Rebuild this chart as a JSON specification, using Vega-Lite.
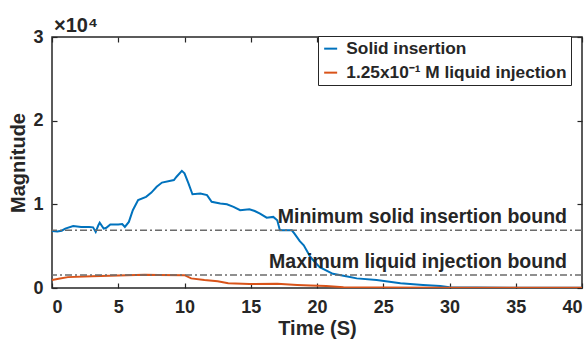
{
  "$schema": "https://vega.github.io/schema/vega-lite/v6.json",
  "width": 530,
  "height": 251,
  "autosize": "none",
  "padding": {"left": 52, "top": 37, "right": 2, "bottom": 55},
  "title": {"text": "×10⁴", "anchor": "start", "frame": "group", "baseline": "top", "offset": 2, "dx": 2, "dy": 10, "fontSize": 20, "fontWeight": "bold", "font": "Liberation Sans", "color": "#262626"},
  "datasets": {
    "series": [
      {"t": 0, "v": 6800, "s": "Solid insertion"},
      {"t": 0.4, "v": 6750, "s": "Solid insertion"},
      {"t": 0.73, "v": 6850, "s": "Solid insertion"},
      {"t": 1.0, "v": 7100, "s": "Solid insertion"},
      {"t": 1.6, "v": 7400, "s": "Solid insertion"},
      {"t": 2.2, "v": 7300, "s": "Solid insertion"},
      {"t": 2.8, "v": 7300, "s": "Solid insertion"},
      {"t": 3.1, "v": 7250, "s": "Solid insertion"},
      {"t": 3.3, "v": 6700, "s": "Solid insertion"},
      {"t": 3.5, "v": 7500, "s": "Solid insertion"},
      {"t": 3.6, "v": 7800, "s": "Solid insertion"},
      {"t": 3.9, "v": 7100, "s": "Solid insertion"},
      {"t": 4.1, "v": 7200, "s": "Solid insertion"},
      {"t": 4.4, "v": 7600, "s": "Solid insertion"},
      {"t": 5.0, "v": 7600, "s": "Solid insertion"},
      {"t": 5.3, "v": 7650, "s": "Solid insertion"},
      {"t": 5.5, "v": 7300, "s": "Solid insertion"},
      {"t": 5.8, "v": 7900, "s": "Solid insertion"},
      {"t": 6.1, "v": 9300, "s": "Solid insertion"},
      {"t": 6.5, "v": 10500, "s": "Solid insertion"},
      {"t": 7.1, "v": 10900, "s": "Solid insertion"},
      {"t": 7.5, "v": 11400, "s": "Solid insertion"},
      {"t": 7.9, "v": 12100, "s": "Solid insertion"},
      {"t": 8.3, "v": 12600, "s": "Solid insertion"},
      {"t": 9.2, "v": 12900, "s": "Solid insertion"},
      {"t": 9.4, "v": 13300, "s": "Solid insertion"},
      {"t": 9.8, "v": 14000, "s": "Solid insertion"},
      {"t": 10.0, "v": 13700, "s": "Solid insertion"},
      {"t": 10.3, "v": 12500, "s": "Solid insertion"},
      {"t": 10.6, "v": 11200, "s": "Solid insertion"},
      {"t": 11.2, "v": 11300, "s": "Solid insertion"},
      {"t": 11.7, "v": 11100, "s": "Solid insertion"},
      {"t": 12.05, "v": 10300, "s": "Solid insertion"},
      {"t": 12.7, "v": 10100, "s": "Solid insertion"},
      {"t": 13.2, "v": 10000, "s": "Solid insertion"},
      {"t": 13.7, "v": 9700, "s": "Solid insertion"},
      {"t": 14.2, "v": 9300, "s": "Solid insertion"},
      {"t": 14.9, "v": 9400, "s": "Solid insertion"},
      {"t": 15.3, "v": 9200, "s": "Solid insertion"},
      {"t": 15.7, "v": 8900, "s": "Solid insertion"},
      {"t": 16.2, "v": 8400, "s": "Solid insertion"},
      {"t": 16.7, "v": 8500, "s": "Solid insertion"},
      {"t": 17.0, "v": 8100, "s": "Solid insertion"},
      {"t": 17.2, "v": 6900, "s": "Solid insertion"},
      {"t": 17.7, "v": 6900, "s": "Solid insertion"},
      {"t": 18.1, "v": 6900, "s": "Solid insertion"},
      {"t": 18.3, "v": 6500, "s": "Solid insertion"},
      {"t": 18.7, "v": 5600, "s": "Solid insertion"},
      {"t": 19.0, "v": 5100, "s": "Solid insertion"},
      {"t": 19.5, "v": 3700, "s": "Solid insertion"},
      {"t": 20.2, "v": 2500, "s": "Solid insertion"},
      {"t": 21.2, "v": 1700, "s": "Solid insertion"},
      {"t": 22.2, "v": 1400, "s": "Solid insertion"},
      {"t": 23.0, "v": 1150, "s": "Solid insertion"},
      {"t": 24.5, "v": 950, "s": "Solid insertion"},
      {"t": 26.3, "v": 560, "s": "Solid insertion"},
      {"t": 28.0, "v": 360, "s": "Solid insertion"},
      {"t": 29.3, "v": 240, "s": "Solid insertion"},
      {"t": 30, "v": 100, "s": "Solid insertion"},
      {"t": 32, "v": 50, "s": "Solid insertion"},
      {"t": 35, "v": 30, "s": "Solid insertion"},
      {"t": 40, "v": 20, "s": "Solid insertion"},
      {"t": 0, "v": 950, "s": "1.25x10⁻¹ M liquid injection"},
      {"t": 0.5, "v": 1100, "s": "1.25x10⁻¹ M liquid injection"},
      {"t": 1.2, "v": 1300, "s": "1.25x10⁻¹ M liquid injection"},
      {"t": 3, "v": 1400, "s": "1.25x10⁻¹ M liquid injection"},
      {"t": 5, "v": 1500, "s": "1.25x10⁻¹ M liquid injection"},
      {"t": 7, "v": 1580, "s": "1.25x10⁻¹ M liquid injection"},
      {"t": 8, "v": 1550, "s": "1.25x10⁻¹ M liquid injection"},
      {"t": 10, "v": 1530, "s": "1.25x10⁻¹ M liquid injection"},
      {"t": 10.5, "v": 1150, "s": "1.25x10⁻¹ M liquid injection"},
      {"t": 11.5, "v": 950, "s": "1.25x10⁻¹ M liquid injection"},
      {"t": 12.5, "v": 800, "s": "1.25x10⁻¹ M liquid injection"},
      {"t": 13.3, "v": 560, "s": "1.25x10⁻¹ M liquid injection"},
      {"t": 14.9, "v": 480, "s": "1.25x10⁻¹ M liquid injection"},
      {"t": 17, "v": 500, "s": "1.25x10⁻¹ M liquid injection"},
      {"t": 18.5, "v": 360, "s": "1.25x10⁻¹ M liquid injection"},
      {"t": 19.5, "v": 300, "s": "1.25x10⁻¹ M liquid injection"},
      {"t": 20.7, "v": 240, "s": "1.25x10⁻¹ M liquid injection"},
      {"t": 22, "v": 100, "s": "1.25x10⁻¹ M liquid injection"},
      {"t": 25, "v": 50, "s": "1.25x10⁻¹ M liquid injection"},
      {"t": 30, "v": 30, "s": "1.25x10⁻¹ M liquid injection"},
      {"t": 40, "v": 30, "s": "1.25x10⁻¹ M liquid injection"}
    ],
    "bounds": [
      {"t": 40, "v": 6900, "label": "Minimum solid insertion bound"},
      {"t": 40, "v": 1550, "label": "Maximum liquid injection bound"}
    ]
  },
  "resolve": {"axis": {"x": "independent", "y": "independent"}},
  "layer": [
    {
      "data": {"name": "series"},
      "mark": {"type": "line", "strokeWidth": 2, "clip": true},
      "encoding": {
        "x": {"field": "t", "type": "quantitative", "scale": {"domain": [0, 40], "nice": false},
              "axis": {"values": [0, 5, 10, 15, 20, 25, 30, 35, 40], "title": "Time (S)", "titlePadding": 2, "labelPadding": 15}},
        "y": {"field": "v", "type": "quantitative", "scale": {"domain": [0, 30000], "nice": false},
              "axis": {"values": [0, 10000, 20000, 30000], "labelExpr": "datum.value / 10000", "title": "Magnitude", "titlePadding": 4, "labelPadding": 14}},
        "color": {"field": "s", "type": "nominal",
                  "scale": {"domain": ["Solid insertion", "1.25x10⁻¹ M liquid injection"], "range": ["#0072BD", "#D95319"]},
                  "legend": {"title": null, "orient": "none", "legendX": 266, "legendY": -1}}
      }
    },
    {
      "data": {"name": "bounds"},
      "mark": {"type": "rule", "color": "#6b6b6b", "strokeWidth": 1.5, "strokeDash": [7, 3, 2, 3]},
      "encoding": {"y": {"field": "v", "type": "quantitative", "axis": null}}
    },
    {
      "data": {"name": "bounds"},
      "mark": {"type": "text", "align": "right", "baseline": "alphabetic", "dx": -15, "dy": -7, "fontSize": 19.5, "fontWeight": "bold", "font": "Liberation Sans", "color": "#262626"},
      "encoding": {
        "x": {"field": "t", "type": "quantitative", "axis": null},
        "y": {"field": "v", "type": "quantitative", "axis": null},
        "text": {"field": "label"}
      }
    },
    {
      "data": {"name": "series"},
      "mark": {"type": "line", "opacity": 0},
      "encoding": {
        "x": {"field": "t", "type": "quantitative", "axis": {"orient": "top", "values": [0, 5, 10, 15, 20, 25, 30, 35, 40], "labels": false, "title": null, "labelPadding": 0, "minExtent": 0, "maxExtent": 0}},
        "y": {"field": "v", "type": "quantitative", "axis": {"orient": "right", "values": [0, 10000, 20000, 30000], "labels": false, "title": null, "labelPadding": 0, "minExtent": 0, "maxExtent": 0}}
      }
    }
  ],
  "config": {
    "font": "Liberation Sans",
    "view": {"stroke": "#262626", "strokeWidth": 1.5},
    "axis": {
      "domain": false, "grid": false, "ticks": true, "tickSize": -5, "tickColor": "#262626", "tickWidth": 1.2,
      "labelFont": "Liberation Sans", "labelFontSize": 18, "labelFontWeight": "bold", "labelColor": "#262626", "labelPadding": 13,
      "titleFont": "Liberation Sans", "titleFontSize": 20, "titleFontWeight": "bold", "titleColor": "#262626"
    },
    "legend": {
      "strokeColor": "#262626", "fillColor": "white", "padding": 4, "rowPadding": 6,
      "symbolType": "stroke", "symbolSize": 169, "symbolStrokeWidth": 2, "symbolOffset": 0,
      "labelFont": "Liberation Sans", "labelFontSize": 17.3, "labelFontWeight": "bold", "labelColor": "#262626", "labelOffset": 7, "labelLimit": 400
    }
  }
}
